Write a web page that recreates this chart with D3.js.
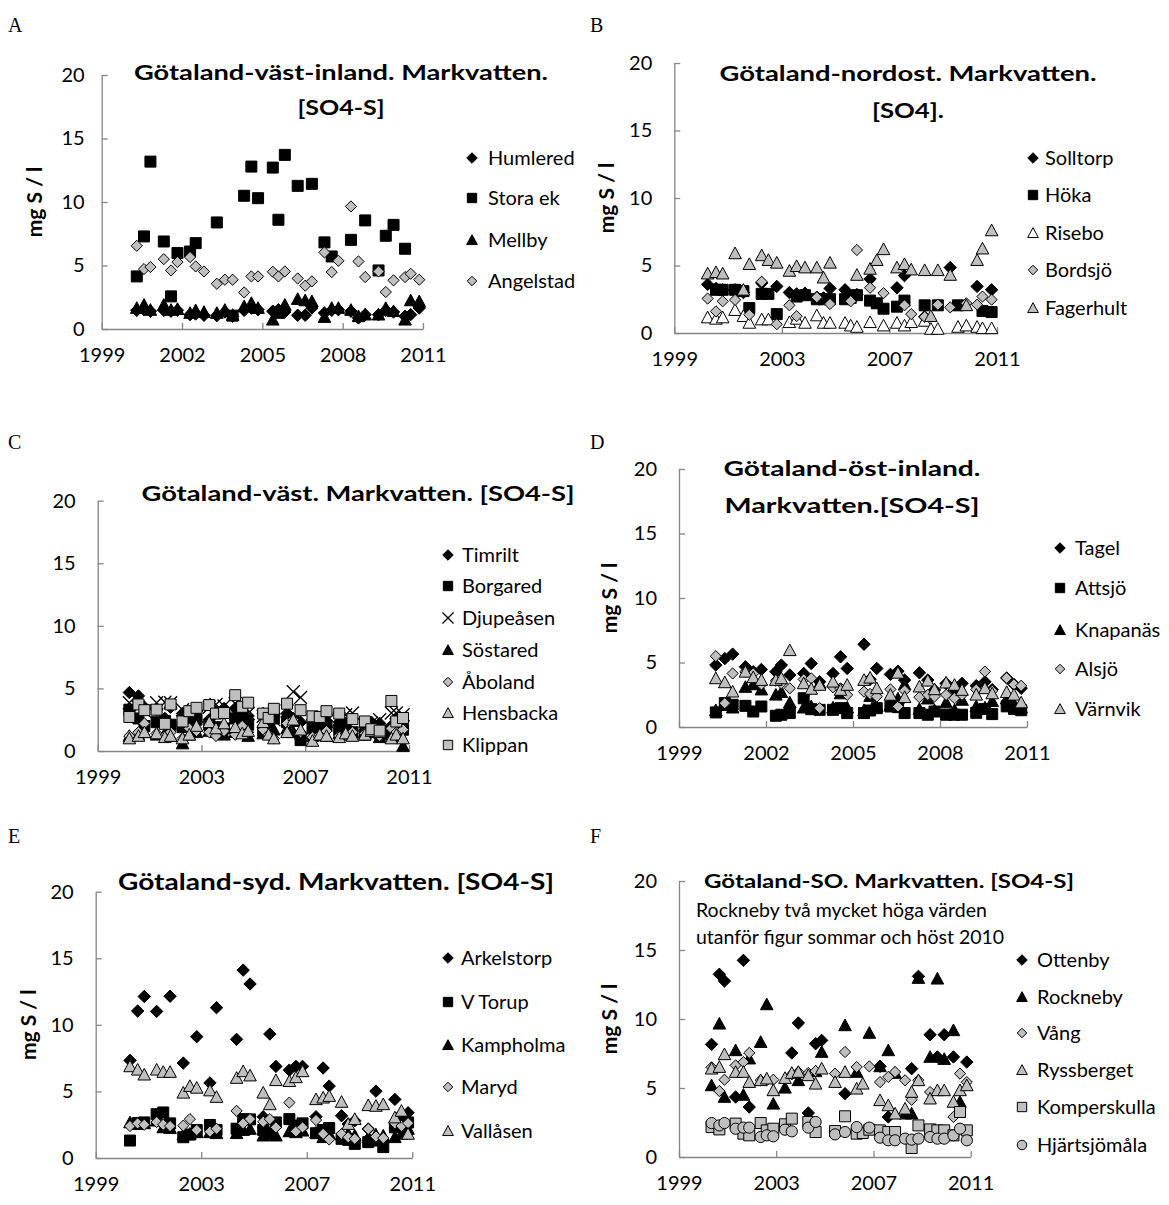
<!DOCTYPE html>
<html>
<head>
<meta charset="utf-8">
<script src="https://cdn.jsdelivr.net/npm/d3@7"></script>
<style>
  body { margin: 0; background: #fff; }
  svg text { font-family: Lato, "Open Sans", sans-serif; fill: #000; }
</style>
</head>
<body>
<script>
// --- tick labels
const yTicks = [0, 5, 10, 15, 20];
const ticks3 = [1999, 2002, 2005, 2008, 2011];
const ticks4 = [1999, 2003, 2007, 2011];

// --- A : Götaland-väst-inland
const tA = [2000.31,2000.58,2000.82,2001.32,2001.59,2001.83,2002.30,2002.51,2002.82,2003.30,2003.60,2003.89,2004.32,2004.59,2004.84,2005.39,2005.60,2005.84,2006.32,2006.60,2006.85,2007.32,2007.59,2007.84,2008.31,2008.59,2008.84,2009.34,2009.61,2009.90,2010.33,2010.54,2010.86];
const humlered  = [1.47,1.52,1.40,1.47,1.40,1.47,1.13,1.18,1.08,1.05,1.34,1.00,1.47,1.65,1.52,1.40,1.52,1.34,1.08,1.08,1.65,1.26,1.47,1.52,1.40,0.87,1.13,1.13,1.47,1.34,1.00,1.13,1.65];
const storaEk   = [4.14,7.29,13.18,6.89,2.57,5.98,6.10,6.76,null,8.39,null,1.05,10.49,12.79,10.30,12.71,8.60,13.71,11.27,null,11.43,6.82,5.71,null,7.02,null,8.55,4.61,7.34,8.20,6.32,null,null];
const mellby    = [1.65,1.90,1.50,1.90,1.50,1.57,1.26,1.47,1.34,1.26,1.50,1.10,1.78,2.04,1.65,0.73,1.26,1.90,2.36,2.25,2.18,0.94,1.65,1.65,1.50,1.00,1.13,1.13,1.65,1.40,0.73,2.25,2.18];
const angelstad = [6.55,4.72,4.88,5.50,4.61,5.27,5.66,4.93,4.53,3.56,3.88,3.88,2.88,4.14,4.14,4.51,4.14,4.53,3.98,3.41,3.75,6.03,4.48,5.37,9.65,5.32,4.09,4.53,2.91,3.83,4.09,4.35,3.88];

// --- B : Götaland-nordost
const tB = [2000.24,2000.55,2000.80,2001.26,2001.57,2001.79,2002.25,2002.50,2002.81,2003.28,2003.55,2003.86,2004.30,2004.55,2004.79,2005.35,2005.56,2005.79,2006.28,2006.53,2006.78,2007.28,2007.56,2007.81,2008.31,2008.54,2008.80,2009.26,2009.55,2009.86,2010.26,2010.46,2010.80];
const solltorp  = [3.60,3.30,3.20,3.20,3.00,null,3.70,null,3.45,3.00,2.90,2.95,2.65,2.60,3.30,3.20,2.70,2.85,4.00,null,null,3.35,4.25,null,1.20,null,null,4.85,null,null,3.45,null,3.20];
const hoka      = [null,3.20,3.20,3.20,3.10,1.85,2.90,2.90,1.40,null,2.70,2.80,2.50,2.50,2.50,2.50,2.60,2.80,2.40,2.20,1.80,1.95,2.40,null,2.05,null,2.05,null,2.05,null,null,1.63,1.55];
const risebo    = [1.15,1.05,1.15,1.70,1.25,0.75,1.00,1.00,null,0.80,1.05,0.75,1.30,0.75,0.75,0.75,0.55,0.45,0.80,null,0.55,0.75,0.55,0.80,0.90,0.30,0.30,null,0.45,0.55,0.45,0.35,0.35];
const bordsjo   = [2.55,1.60,2.35,2.45,null,1.35,3.80,null,0.65,2.05,1.25,null,2.65,null,2.15,null,2.35,6.15,3.35,null,2.95,null,2.05,1.40,1.20,null,2.10,1.90,null,2.20,2.10,2.70,2.47];
const fagerhult = [4.40,4.50,4.40,5.90,3.20,5.10,5.75,5.40,5.20,4.60,4.95,4.85,4.85,4.10,5.20,null,null,4.30,4.75,5.40,6.20,4.85,5.10,4.70,4.65,1.25,4.65,4.30,null,2.05,5.40,6.25,7.60];

// --- C : Götaland-väst
const tC = [2000.22,2000.57,2000.80,2001.27,2001.59,2001.81,2002.27,2002.53,2002.81,2003.30,2003.56,2003.87,2004.30,2004.57,2004.80,2005.38,2005.59,2005.79,2006.30,2006.54,2006.82,2007.28,2007.56,2007.82,2008.31,2008.56,2008.82,2009.30,2009.55,2009.87,2010.32,2010.51,2010.77];
const timrilt   = [4.67,4.40,3.50,3.30,2.60,3.50,3.00,2.80,3.20,2.50,3.10,3.40,3.40,2.70,2.80,3.00,2.50,2.90,3.00,2.60,2.30,2.50,2.20,2.40,2.30,2.20,2.60,1.90,2.30,2.20,2.00,2.60,2.40];
const borgared  = [3.30,2.60,2.00,2.30,2.40,2.10,1.90,2.10,2.50,2.10,1.90,1.80,2.60,2.30,2.10,1.60,2.30,2.60,2.30,2.40,0.87,1.80,1.60,2.00,1.70,1.80,1.50,1.30,1.50,1.40,1.60,1.80,1.70];
const djupeasen = [3.86,3.50,3.20,3.86,3.90,3.86,3.30,2.83,2.77,3.50,3.72,3.59,3.80,3.30,3.00,2.77,2.09,2.50,3.20,4.73,4.27,1.82,1.96,2.40,2.55,2.90,3.04,2.09,2.23,2.50,3.04,3.04,2.90];
const sostared  = [1.20,1.30,1.50,1.30,1.40,1.20,0.60,1.30,1.50,1.60,1.50,1.30,1.50,1.80,1.20,1.40,1.50,1.70,1.80,1.50,1.40,1.20,1.30,1.20,1.40,1.30,1.50,1.40,1.60,1.10,1.30,1.20,0.40];
const aboland   = [1.20,1.50,2.20,1.40,1.20,1.50,1.00,1.80,1.60,1.50,1.20,1.60,1.30,2.00,1.50,1.70,1.30,1.00,2.20,2.50,1.50,1.10,1.30,1.60,1.20,1.30,1.50,1.40,1.70,1.20,1.80,1.50,1.70];
const hensbacka = [1.00,1.20,1.50,1.40,1.10,1.20,1.00,1.30,2.00,2.30,1.80,2.20,1.90,1.40,1.60,2.30,1.30,1.00,1.50,2.50,1.70,0.80,1.30,1.20,1.10,1.40,1.20,1.30,1.60,1.50,1.00,1.30,1.00];
const klippan   = [2.72,3.72,3.26,3.30,2.17,3.72,2.36,3.18,3.45,3.67,2.99,3.04,4.46,3.53,3.86,2.99,2.64,3.37,3.78,null,3.26,2.77,2.72,3.18,2.99,null,2.55,2.36,1.74,1.63,4.00,2.36,2.64];

// --- D : Götaland-öst-inland
const tD = [2000.27,2000.58,2000.85,2001.29,2001.56,2001.84,2002.34,2002.53,2002.82,2003.30,2003.56,2003.85,2004.31,2004.57,2004.80,2005.38,2005.59,2005.82,2006.29,2006.55,2006.78,2007.29,2007.58,2007.81,2008.21,2008.50,2008.76,2009.25,2009.55,2009.80,2010.30,2010.55,2010.80];
const tagel     = [4.80,5.30,5.65,4.67,4.28,4.46,4.28,4.80,4.03,4.15,4.92,3.51,4.15,5.44,4.54,6.41,3.70,4.54,4.08,4.33,3.64,4.20,3.64,2.87,3.38,2.87,3.38,3.20,3.50,2.90,3.80,3.30,3.00];
const attsjo    = [1.13,1.85,1.72,1.64,1.20,1.59,0.87,0.95,1.08,2.23,1.38,1.33,1.33,1.46,1.08,1.08,1.28,1.46,1.59,1.54,1.08,1.08,0.95,1.20,0.95,0.95,0.95,1.10,1.40,1.00,1.60,1.40,1.30];
const knapanas  = [1.30,1.70,1.50,3.10,3.30,2.90,2.50,2.70,1.90,1.50,1.60,3.40,1.50,2.60,1.50,1.30,2.40,1.60,1.70,2.20,3.30,1.40,2.20,1.30,1.90,1.30,2.10,1.60,1.50,2.00,2.20,1.80,1.50];
const alsjo     = [5.49,1.85,4.15,4.28,4.15,3.30,3.59,3.38,3.00,3.69,3.77,1.46,3.08,3.00,2.49,2.74,2.56,2.36,2.92,1.59,2.82,2.31,2.49,2.36,2.49,2.23,2.49,2.90,4.30,2.80,3.80,3.30,3.20];
const varnvik   = [3.77,3.46,2.74,4.28,3.85,3.64,3.64,3.77,5.95,3.38,2.95,3.26,3.51,2.87,3.26,3.64,3.82,3.00,2.49,4.20,2.31,3.13,3.59,2.92,3.44,3.26,2.87,2.50,3.00,2.60,2.70,2.50,1.90];

// --- E : Götaland-syd
const tE = [2000.30,2000.59,2000.84,2001.31,2001.56,2001.82,2002.32,2002.57,2002.83,2003.33,2003.58,2003.84,2004.34,2004.59,2004.85,2005.35,2005.60,2005.83,2006.34,2006.59,2006.84,2007.35,2007.62,2007.85,2008.32,2008.57,2008.82,2009.33,2009.62,2009.90,2010.34,2010.59,2010.84];
const arkelstorp = [7.33,11.04,12.13,11.01,null,12.15,7.13,null,9.11,5.64,11.29,null,8.91,14.11,13.07,3.10,9.31,6.88,6.60,6.88,6.88,3.10,6.76,5.40,3.17,2.55,2.80,2.18,5.02,null,4.40,3.29,3.40];
const vTorup     = [1.31,2.62,2.67,3.29,3.42,2.60,1.56,1.76,2.10,2.48,2.10,null,2.20,2.92,2.90,2.10,1.90,2.67,2.92,2.43,2.60,1.86,2.10,2.25,1.44,1.36,1.06,1.19,1.31,0.82,2.30,2.55,2.67];
const kampholma  = [2.67,2.55,2.60,2.80,2.30,2.25,1.76,1.81,1.93,1.93,1.86,null,1.86,2.10,2.18,1.68,1.81,1.68,2.00,1.93,2.05,1.90,1.56,1.81,1.76,1.81,1.68,1.56,1.76,1.68,1.56,1.81,2.18];
const maryd      = [2.40,2.60,2.50,2.70,2.50,2.40,2.43,2.92,2.10,1.98,2.20,null,3.54,2.60,2.92,2.72,2.92,2.30,4.16,2.00,2.30,2.85,1.81,1.39,1.81,1.56,1.44,2.18,1.61,1.50,2.60,2.40,2.62];
const vallasen   = [6.88,6.63,6.26,6.63,6.46,6.46,4.90,5.40,5.27,5.07,4.58,null,6.01,6.51,6.19,4.90,4.03,5.84,5.77,6.06,6.51,4.41,4.53,4.65,4.21,2.55,2.92,3.96,3.91,4.03,3.04,3.54,1.81];

// --- F : Götaland-SO
const tF = [2000.34,2000.66,2000.87,2001.33,2001.65,2001.89,2002.36,2002.61,2002.88,2003.36,2003.64,2003.91,2004.32,2004.62,2004.87,2005.42,2005.63,2005.83,2006.31,2006.56,2006.83,2007.27,2007.61,2007.89,2008.30,2008.57,2008.85,2009.33,2009.63,2009.91,2010.29,2010.56,2010.84];
const ottenby      = [8.16,13.24,12.75,4.35,14.25,3.62,null,null,null,null,7.54,9.71,3.19,8.21,8.45,null,null,4.59,null,null,null,6.57,2.90,null,null,6.40,13.09,8.86,7.25,8.86,7.25,null,6.88];
const rockneby     = [5.19,9.66,4.35,7.73,4.50,7.13,8.33,11.06,3.86,5.02,null,5.56,null,6.21,7.61,null,null,9.54,6.16,null,8.99,6.57,7.73,6.09,3.14,3.14,12.97,7.25,12.92,7.10,9.18,3.99,null];
const vang         = [6.50,4.78,5.60,6.64,6.88,7.54,5.56,5.56,5.60,null,5.99,6.16,6.09,6.23,null,6.04,null,7.61,6.52,null,6.57,5.43,5.80,6.16,5.56,4.15,5.56,4.71,null,null,2.90,6.04,5.43];
const ryssberget   = [6.40,6.52,7.44,6.16,6.16,5.43,5.56,5.68,4.83,5.72,6.09,6.16,5.92,5.31,6.40,5.43,null,6.16,4.95,5.31,null,4.11,3.74,3.14,3.50,4.71,5.56,4.23,4.83,4.83,3.99,4.83,5.19];
const komperskulla = [2.17,2.00,null,2.42,1.69,1.57,2.46,1.93,2.05,2.37,2.78,null,2.54,1.81,null,1.88,null,2.95,1.69,1.74,1.98,1.93,1.81,1.81,null,0.65,2.29,2.00,1.93,1.93,1.57,3.26,1.93];
const hjartsjomala = [2.46,2.29,2.46,2.05,2.13,2.13,1.45,1.57,1.50,1.98,1.86,null,2.13,2.54,null,1.64,null,1.81,2.17,null,2.13,1.40,1.21,1.21,1.33,1.26,1.33,1.45,1.33,1.33,1.57,2.05,1.21];

// marker shapes (size = half width)
const diamond  = { draw(c, r) { c.moveTo(0, -r); c.lineTo(r, 0); c.lineTo(0, r); c.lineTo(-r, 0); c.closePath(); } };
const square   = { draw(c, r) { c.rect(-r, -r, 2 * r, 2 * r); } };
const triangle = { draw(c, r) { c.moveTo(0, -r); c.lineTo(r, r * 0.85); c.lineTo(-r, r * 0.85); c.closePath(); } };
const circle   = { draw(c, r) { c.moveTo(r, 0); c.arc(0, 0, r, 0, 2 * Math.PI); } };
const cross    = { draw(c, r) { c.moveTo(-r, -r); c.lineTo(r, r); c.moveTo(r, -r); c.lineTo(-r, r); } };

const BLACK = "#000", GREY = "#bfbfbf", WHITE = "#fff";
const markers = {
  blackDiamond: { type: diamond, fill: BLACK, r: 6.2 },
  blackSquare: { type: square, fill: BLACK, r: 5.5 },
  blackTri: { type: triangle, fill: BLACK, r: 6.3 },
  greyDiamond: { type: diamond, fill: GREY, r: 5.6 },
  greyTri: { type: triangle, fill: GREY, r: 6.3 },
  whiteTri: { type: triangle, fill: WHITE, r: 6.3 },
  greySquare: { type: square, fill: GREY, r: 5.5 },
  greyCircle: { type: circle, fill: GREY, r: 5.6 },
  cross: { type: cross, fill: "none", r: 6.5 }
};

// layout for each panel; title widths (tw) as measured on the original
const panels = [
  { letter: "A", lx: 8, ly: 32, x0: 101.7, x1: 423, y0: 329, y20: 75, xt: ticks3, yPad: 17, ylab: 35,
    title: ["Götaland-väst-inland. Markvatten.", "[SO4-S]"], tw: [414, 87], tx: 341, ty: [80, 115], ts: 21.5,
    leg: { mx: 472, tx: 488, y: [158, 198, 240, 281] }, t: tA,
    series: [["Humlered", humlered, "blackDiamond"], ["Stora ek", storaEk, "blackSquare"], ["Mellby", mellby, "blackTri"], ["Angelstad", angelstad, "greyDiamond"]] },
  { letter: "B", lx: 590, ly: 32, x0: 674.3, x1: 997, y0: 333, y20: 63, xt: ticks4, yPad: 22, ylab: 607,
    title: ["Götaland-nordost. Markvatten.", "[SO4]."], tw: [377, 72], tx: 908, ty: [81, 118], ts: 21.5,
    leg: { mx: 1033, tx: 1045, y: [158, 195, 233, 270, 308] }, t: tB,
    series: [["Solltorp", solltorp, "blackDiamond"], ["Höka", hoka, "blackSquare"], ["Risebo", risebo, "whiteTri"], ["Bordsjö", bordsjo, "greyDiamond"], ["Fagerhult", fagerhult, "greyTri"]] },
  { letter: "C", lx: 8, ly: 449, x0: 97.7, x1: 409, y0: 751, y20: 500.7, xt: ticks4, yPad: 22, ylab: null,
    title: ["Götaland-väst. Markvatten. [SO4-S]"], tw: [433], tx: 358, ty: [501], ts: 21,
    leg: { mx: 448, tx: 462, y: [555, 586, 618, 650, 682, 713, 745] }, t: tC,
    series: [["Timrilt", timrilt, "blackDiamond"], ["Borgared", borgared, "blackSquare"], ["Djupeåsen", djupeasen, "cross"], ["Söstared", sostared, "blackTri"], ["Åboland", aboland, "greyDiamond"], ["Hensbacka", hensbacka, "greyTri"], ["Klippan", klippan, "greySquare"]] },
  { letter: "D", lx: 590, ly: 449, x0: 679, x1: 1027, y0: 727, y20: 469, xt: ticks3, yPad: 22, ylab: 610,
    title: ["Götaland-öst-inland.", "Markvatten.[SO4-S]"], tw: [257, 255], tx: 852, ty: [476, 513], ts: 21.5,
    leg: { mx: 1060, tx: 1075, y: [548, 588, 630, 669, 709] }, t: tD,
    series: [["Tagel", tagel, "blackDiamond"], ["Attsjö", attsjo, "blackSquare"], ["Knapanäs", knapanas, "blackTri"], ["Alsjö", alsjo, "greyDiamond"], ["Värnvik", varnvik, "greyTri"]] },
  { letter: "E", lx: 8, ly: 843, x0: 95.7, x1: 412.3, y0: 1158, y20: 891.7, xt: ticks4, yPad: 22, ylab: 29,
    title: ["Götaland-syd. Markvatten. [SO4-S]"], tw: [436], tx: 336, ty: [890], ts: 22,
    leg: { mx: 448, tx: 461, y: [958, 1002, 1045, 1087, 1131] }, t: tE,
    series: [["Arkelstorp", arkelstorp, "blackDiamond"], ["V Torup", vTorup, "blackSquare"], ["Kampholma", kampholma, "blackTri"], ["Maryd", maryd, "greyDiamond"], ["Vallåsen", vallasen, "greyTri"]] },
  { letter: "F", lx: 590, ly: 843, x0: 679, x1: 970.7, y0: 1157, y20: 881, xt: ticks4, yPad: 22, ylab: 610,
    title: ["Götaland-SO. Markvatten. [SO4-S]"], tw: [370], tx: 889, ty: [888], ts: 19.5,
    note: ["Rockneby två mycket höga värden", "utanför figur sommar och höst 2010"], nx: 696, ny: [917, 944],
    leg: { mx: 1022, tx: 1037, y: [960, 997, 1033, 1070, 1107, 1145] }, t: tF,
    series: [["Ottenby", ottenby, "blackDiamond"], ["Rockneby", rockneby, "blackTri"], ["Vång", vang, "greyDiamond"], ["Ryssberget", ryssberget, "greyTri"], ["Komperskulla", komperskulla, "greySquare"], ["Hjärtsjömåla", hjartsjomala, "greyCircle"]] }
];

const svg = d3.select("body").append("svg")
  .attr("width", 1169).attr("height", 1205)
  .attr("viewBox", "0 0 1169 1205");

function drawMarker(sel, m, scale) {
  sel.attr("d", d3.symbol().type(m.type).size(m.r * scale))
    .attr("fill", m.fill)
    .attr("stroke", "#000")
    .attr("stroke-width", m.type === cross ? 1.3 : 1);
}

panels.forEach(p => {
  const g = svg.append("g");
  const x = d3.scaleLinear().domain([1999, 2011]).range([p.x0, p.x1]);
  const y = d3.scaleLinear().domain([0, 20]).range([p.y0, p.y20]);

  g.append("text").attr("x", p.lx).attr("y", p.ly)
    .style("font-family", "'Liberation Serif', serif").style("font-size", "20px")
    .text(p.letter);

  // axes, ticks pointing into the plot like Excel
  const xa = g.append("g").attr("transform", `translate(0,${p.y0})`)
    .call(d3.axisBottom(x).tickValues(p.xt).tickFormat(d3.format("d"))
      .tickSizeInner(-6).tickSizeOuter(0).tickPadding(19));
  const ya = g.append("g").attr("transform", `translate(${p.x0},0)`)
    .call(d3.axisLeft(y).tickValues(yTicks).tickSizeInner(-6).tickSizeOuter(0).tickPadding(p.yPad));
  [xa, ya].forEach(a => {
    a.attr("font-family", null).attr("font-size", null);
    a.selectAll("path, line").attr("stroke", "#868686").attr("stroke-width", 1.3);
    a.selectAll("text").style("font-size", "20px");
  });

  if (p.ylab !== null) {
    g.append("text")
      .attr("transform", `translate(${p.ylab},${(p.y0 + p.y20) / 2}) rotate(-90)`)
      .attr("text-anchor", "middle").attr("dy", "0.35em")
      .style("font-size", "21px").style("font-weight", "bold")
      .text("mg S / l");
  }

  p.title.forEach((line, i) => {
    g.append("text").attr("x", p.tx).attr("y", p.ty[i])
      .attr("text-anchor", "middle")
      .attr("textLength", p.tw[i]).attr("lengthAdjust", "spacingAndGlyphs")
      .style("font-size", p.ts + "px").style("font-weight", "bold")
      .text(line);
  });

  if (p.note) {
    p.note.forEach((line, i) => {
      g.append("text").attr("x", p.nx).attr("y", p.ny[i])
        .style("font-size", "19.5px").text(line);
    });
  }

  // points, series in order so later series sit on top
  p.series.forEach(([name, vals, mk]) => {
    const pts = p.t.map((t, i) => ({ t, v: vals[i] })).filter(d => d.v !== null);
    g.append("g").selectAll("path").data(pts).join("path")
      .attr("transform", d => `translate(${x(d.t)},${y(d.v)})`)
      .call(drawMarker, markers[mk], 1);
  });

  // legend
  const lg = g.append("g");
  p.series.forEach(([name, vals, mk], i) => {
    lg.append("path").attr("transform", `translate(${p.leg.mx},${p.leg.y[i]})`)
      .call(drawMarker, markers[mk], 0.85);
    lg.append("text").attr("x", p.leg.tx).attr("y", p.leg.y[i]).attr("dy", "0.36em")
      .style("font-size", "20px").text(name);
  });
});
</script>
</body>
</html>
